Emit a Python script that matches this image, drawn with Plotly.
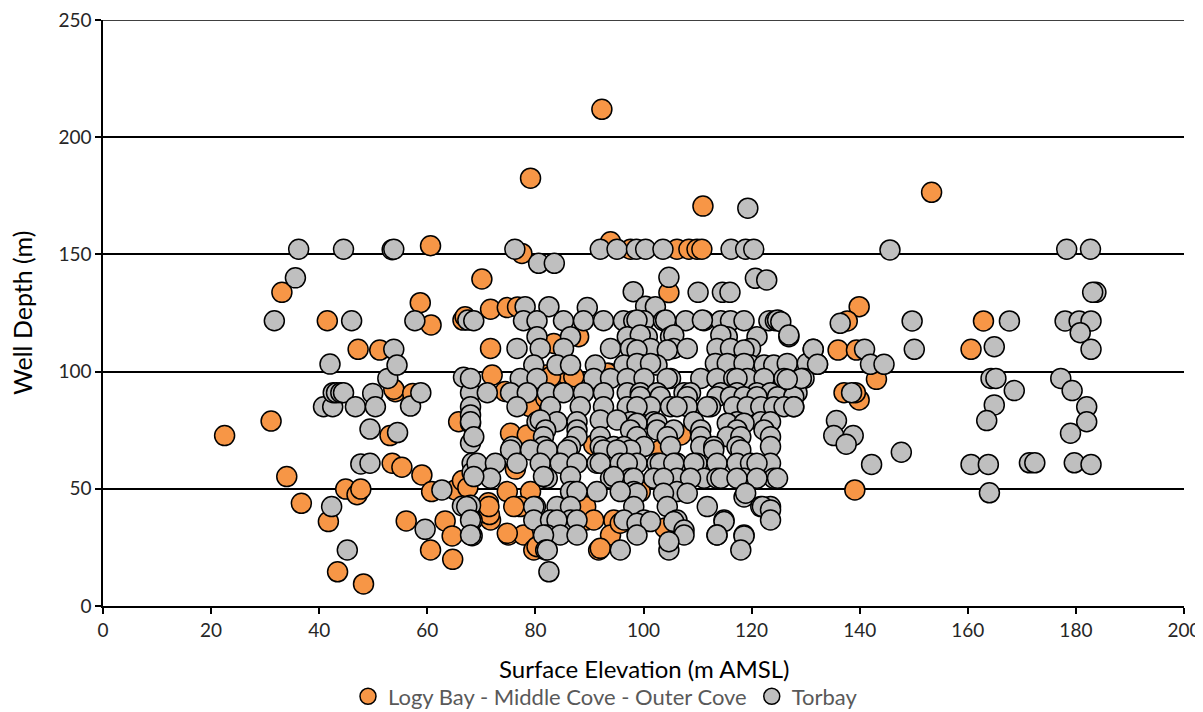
import plotly.graph_objects as go

# ---- Data: (surface elevation m AMSL, well depth m) ----
logy_points = [
    (22.5, 72.7), (31.1, 78.9), (33.1, 133.8), (34.0, 55.2), (36.7, 43.8), (41.5, 121.7),
    (41.7, 36.0), (43.4, 14.6), (44.9, 49.9), (47.0, 47.5), (47.2, 109.5), (47.7, 49.9),
    (48.2, 9.4), (51.2, 109.2), (53.1, 72.7), (53.5, 60.9), (54.1, 91.4), (53.8, 92.5),
    (55.3, 59.2), (56.1, 36.3), (57.3, 90.7), (58.7, 129.4), (59.0, 55.9), (60.6, 153.7),
    (60.7, 119.9), (60.6, 23.9), (60.8, 48.8), (63.3, 36.3), (64.6, 29.9), (64.7, 19.9),
    (65.2, 49.5), (65.8, 78.6), (66.6, 122.0), (66.5, 53.5), (67.5, 50.5), (67.0, 123.4),
    (70.1, 139.5), (71.7, 126.6), (74.8, 127.3), (76.7, 127.6), (71.7, 109.9), (72.0, 98.5),
    (74.4, 91.5), (75.4, 73.7), (78.5, 73.0), (79.0, 85.0), (81.9, 98.5), (85.9, 98.5),
    (93.6, 99.3), (90.8, 68.7), (74.8, 48.8), (79.1, 48.8), (71.1, 42.4), (77.2, 42.4),
    (88.9, 42.4), (71.7, 36.7), (89.5, 36.7), (94.5, 36.7), (75.0, 30.3), (77.8, 30.3),
    (93.9, 30.3), (79.7, 23.9), (91.7, 23.9), (79.1, 182.5), (92.3, 211.9), (111.0, 170.6),
    (77.5, 150.4), (93.9, 155.4), (97.6, 152.2), (106.2, 152.2), (108.4, 152.2), (109.9, 152.2),
    (110.8, 152.2), (104.7, 133.7), (81.9, 88.7), (97.0, 61.0), (76.3, 58.4), (71.3, 44.0),
    (71.5, 39.0), (106.9, 73.0), (103.1, 66.6), (99.4, 48.8), (104.0, 33.3), (71.4, 42.4),
    (76.0, 42.4), (89.3, 42.4), (90.8, 36.7), (95.7, 35.3), (74.8, 31.0), (92.0, 24.6),
    (80.3, 25.3), (68.0, 78.0), (83.4, 112.0), (88.0, 114.9), (82.8, 97.8), (87.1, 97.8),
    (93.3, 99.3), (153.3, 176.5), (139.9, 127.7), (137.7, 121.6), (162.9, 121.6),
    (136.0, 109.2), (139.4, 109.2), (160.6, 109.5), (143.1, 96.7), (137.1, 91.0),
    (139.9, 87.9), (139.2, 91.0), (139.1, 49.5),
]

torbay_points = [
    # left group
    (31.7, 121.7), (35.6, 140.0), (36.2, 152.2), (40.8, 85.0), (42.0, 103.2), (42.3, 42.4),
    (42.5, 85.0), (42.6, 91.0), (43.2, 91.0), (44.0, 91.0), (44.5, 91.0), (44.5, 152.2),
    (45.2, 23.9), (46.0, 121.7), (46.7, 85.0), (47.7, 60.6), (49.4, 75.5), (49.4, 60.9),
    (49.9, 90.7), (50.4, 85.0), (52.7, 97.1), (53.5, 152.0), (53.8, 152.2), (53.8, 109.5),
    (54.4, 102.8), (54.5, 74.0), (56.9, 85.3), (57.7, 121.7), (58.8, 91.0), (59.6, 32.7),
    (62.7, 49.5), (66.5, 42.7), (66.7, 97.6), (67.5, 122.0), (68.0, 91.0), (68.0, 85.0),
    (68.0, 81.5), (68.0, 69.5), (68.3, 61.0), (68.3, 57.0), (68.0, 43.0), (68.3, 36.5),
    (68.3, 30.0),
    # central cloud, top
    (76.2, 152.2), (92.0, 152.2), (95.1, 152.2), (98.7, 152.2), (100.4, 152.2), (103.6, 152.2),
    (116.2, 152.2), (118.9, 152.2), (120.4, 152.2), (80.6, 146.2), (83.5, 146.2),
    (104.7, 140.2), (98.1, 134.1), (110.1, 133.8), (114.6, 133.8), (116.0, 133.8),
    (120.7, 139.8), (122.8, 139.1), (119.3, 169.7),
    (78.1, 127.7), (82.5, 127.7), (89.6, 127.3), (100.4, 127.9), (102.2, 127.7),
    # ~122
    (68.6, 121.7), (77.8, 121.7), (80.3, 121.7), (85.2, 121.7), (88.9, 121.7), (92.6, 121.7),
    (96.3, 121.7), (98.2, 121.7), (100.1, 121.7), (103.7, 121.7), (107.8, 121.7), (111.2, 121.7),
    (114.3, 121.7), (116.1, 121.7), (118.6, 121.7), (123.2, 121.7), (124.4, 121.7),
    (98.8, 122.0), (104.1, 122.0), (110.9, 122.0), (124.8, 122.0),
    # ~115
    (80.3, 114.9), (86.5, 114.9), (97.0, 114.9), (100.7, 114.9), (105.0, 114.9), (115.5, 114.9),
    (121.0, 114.9), (126.9, 114.9), (99.4, 115.6), (105.6, 115.6), (114.3, 115.6),
    # ~110
    (76.6, 109.9), (80.9, 109.9), (85.2, 109.9), (93.9, 109.9), (97.6, 109.9), (101.3, 109.9),
    (105.6, 109.9), (108.1, 109.9), (113.6, 109.9), (116.1, 109.9), (119.8, 109.9), (131.4, 109.5),
    (98.8, 109.2), (104.4, 109.2), (118.6, 109.2),
    # ~103
    (79.7, 102.8), (84.0, 102.8), (86.5, 102.8), (91.1, 102.8), (96.4, 102.8), (100.1, 102.8),
    (102.5, 102.8), (113.6, 102.8), (116.7, 102.8), (119.8, 102.8), (122.3, 102.8), (124.1, 102.8),
    (132.2, 103.1), (98.8, 103.5), (101.3, 103.5), (113.3, 103.5), (115.5, 103.5), (118.6, 103.5),
    (126.6, 103.5), (130.3, 103.5),
    # ~97
    (68.0, 97.1), (77.2, 97.1), (80.3, 97.1), (90.8, 97.1), (93.9, 97.1), (97.0, 97.1),
    (105.0, 97.1), (110.6, 97.1), (113.6, 97.1), (116.7, 97.1), (119.2, 97.1), (122.3, 97.1),
    (126.0, 97.1), (129.4, 97.1), (100.1, 97.1), (104.4, 97.1), (117.3, 97.1), (129.7, 97.1),
    # ~91
    (71.1, 91.0), (75.4, 91.0), (78.5, 91.0), (82.2, 91.0), (85.2, 91.0), (88.9, 91.0),
    (92.6, 91.0), (97.0, 91.0), (99.4, 91.0), (102.5, 91.0), (107.5, 91.0), (108.7, 91.0),
    (114.3, 91.0), (117.3, 91.0), (121.0, 91.0), (123.5, 91.0), (128.4, 91.0),
    (99.4, 89.3), (103.1, 89.3), (108.1, 89.3), (113.6, 89.3), (116.1, 89.3), (118.6, 89.3),
    (121.0, 89.3), (124.8, 89.3), (127.8, 89.3),
    # ~85
    (76.6, 85.0), (82.8, 85.0), (88.3, 85.0), (92.6, 85.0), (97.0, 85.0), (101.3, 85.0),
    (105.0, 85.0), (108.1, 85.0), (112.4, 85.0), (116.7, 85.0), (119.2, 85.0), (121.7, 85.0),
    (124.1, 85.0), (127.8, 85.0), (98.8, 85.0), (106.2, 85.0), (111.8, 85.0), (126.0, 85.0),
    # ~79
    (68.0, 78.6), (80.3, 78.6), (84.0, 78.6), (87.7, 78.6), (97.6, 78.6), (101.9, 78.6),
    (109.3, 78.6), (117.3, 78.6), (121.7, 78.6), (123.5, 78.6), (98.8, 78.0), (102.5, 78.0),
    (115.5, 78.0), (118.6, 78.0), (80.9, 79.4), (92.0, 79.4), (95.1, 79.4),
    # ~73
    (81.9, 75.1), (87.7, 75.1), (97.6, 75.1), (102.5, 75.1), (105.6, 75.1), (110.6, 75.1),
    (117.3, 75.1), (122.3, 75.1), (98.8, 72.2), (104.4, 72.2), (110.6, 72.2), (115.5, 72.2),
    (118.0, 72.2), (123.5, 72.2), (68.6, 72.2), (81.5, 72.2), (87.7, 72.2), (92.0, 72.2),
    # ~67
    (75.7, 68.0), (81.5, 68.0), (86.5, 68.0), (92.0, 68.0), (94.5, 68.0), (96.4, 68.0),
    (100.1, 68.0), (105.0, 68.0), (110.6, 68.0), (113.0, 68.0), (117.3, 68.0), (123.5, 68.0),
    (97.6, 66.6), (113.0, 66.6), (118.0, 66.6), (75.4, 66.6), (79.1, 66.6), (82.2, 66.6),
    (85.9, 66.6), (92.6, 66.6), (95.1, 66.6),
    # ~61
    (69.2, 60.9), (72.6, 60.9), (76.6, 60.9), (80.9, 60.9), (84.6, 60.9), (87.7, 60.9),
    (91.4, 60.9), (95.7, 60.9), (98.8, 60.9), (102.5, 60.9), (106.2, 60.9), (109.9, 60.9),
    (113.6, 60.9), (117.3, 60.9), (119.8, 60.9), (123.5, 60.9), (103.1, 60.9), (105.6, 60.9),
    (109.3, 60.9), (121.0, 60.9), (92.0, 60.9), (97.0, 60.9),
    # ~55
    (71.7, 54.5), (82.2, 54.5), (93.9, 54.5), (97.6, 54.5), (101.9, 54.5), (106.2, 54.5),
    (111.2, 54.5), (113.6, 54.5), (118.6, 54.5), (124.1, 54.5), (98.2, 54.5), (103.7, 54.5),
    (108.7, 54.5), (114.3, 54.5), (117.3, 54.5), (121.0, 54.5), (124.8, 54.5), (68.6, 55.2),
    (81.5, 55.2), (86.5, 55.2), (94.5, 55.2),
    # ~48
    (87.1, 48.8), (91.4, 48.8), (98.2, 48.8), (106.2, 48.8), (118.6, 46.5), (98.8, 48.1),
    (103.7, 48.1), (108.1, 48.1), (118.9, 48.1), (86.5, 48.8), (87.7, 48.8), (95.7, 48.8),
    # ~42
    (80.0, 42.4), (84.0, 42.4), (98.2, 42.4), (104.4, 42.4), (111.8, 42.4), (121.7, 42.4),
    (123.5, 42.4), (122.0, 42.4), (123.5, 41.0), (67.3, 42.4), (79.7, 42.4), (86.5, 42.4),
    # ~37
    (79.7, 36.7), (82.8, 36.7), (86.5, 36.7), (96.4, 36.7), (100.1, 36.7), (106.2, 36.7),
    (114.9, 36.7), (123.5, 36.7), (114.9, 36.0), (98.8, 35.3), (101.3, 36.0), (105.6, 36.0),
    (107.5, 32.4), (68.0, 36.7), (84.0, 36.7), (87.7, 36.7),
    # ~30
    (82.2, 30.3), (84.6, 30.3), (87.7, 30.3), (98.8, 30.3), (107.5, 30.3), (113.6, 30.3),
    (118.6, 30.3), (113.6, 30.3), (118.6, 29.9), (68.0, 30.3), (81.5, 30.3),
    # ~24 and below
    (81.9, 23.9), (95.7, 23.9), (104.7, 23.9), (118.0, 23.9), (104.7, 27.4), (82.2, 23.9),
    (82.5, 14.6),
    # right group
    (145.6, 151.9), (178.3, 152.2), (182.7, 152.2), (183.7, 133.8), (183.1, 133.8),
    (136.4, 120.6), (149.7, 121.6), (167.7, 121.6), (178.0, 121.6), (180.6, 121.6),
    (182.8, 121.6), (180.8, 116.6), (125.4, 121.3), (126.9, 115.6), (140.9, 109.5),
    (131.4, 109.5), (132.2, 103.1), (142.0, 103.1), (144.5, 103.1), (150.1, 109.5),
    (164.9, 110.6), (182.8, 109.5), (129.2, 97.1), (126.6, 96.7), (138.5, 91.0),
    (164.3, 97.1), (165.2, 97.1), (168.6, 91.9), (177.2, 97.1), (179.3, 91.9), (182.0, 85.0),
    (182.0, 78.6), (179.0, 73.7), (164.9, 85.8), (163.5, 79.1), (127.8, 85.0), (135.7, 79.1),
    (135.2, 72.7), (138.8, 72.7), (137.5, 69.0), (147.7, 65.6), (142.2, 60.4), (160.6, 60.4),
    (163.8, 60.4), (171.4, 61.1), (172.4, 61.1), (179.7, 61.1), (182.8, 60.4), (164.0, 48.3),
]

logy_elev = [p[0] for p in logy_points]
logy_depth = [p[1] for p in logy_points]
torbay_elev = [p[0] for p in torbay_points]
torbay_depth = [p[1] for p in torbay_points]

x_ticks = [0, 20, 40, 60, 80, 100, 120, 140, 160, 180, 200]
y_ticks = [0, 50, 100, 150, 200, 250]
x_title = "Surface Elevation (m AMSL)"
y_title = "Well Depth (m)"

FONT = "Lato"
TICK_COLOR = "#262626"

fig = go.Figure()
fig.add_trace(go.Scatter(
    x=logy_elev, y=logy_depth, mode="markers",
    name="Logy Bay - Middle Cove - Outer Cove",
    marker=dict(size=20, color="#F79646", line=dict(color="black", width=1.5)),
))
fig.add_trace(go.Scatter(
    x=torbay_elev, y=torbay_depth, mode="markers",
    name="Torbay",
    marker=dict(size=20, color="#BFBFBF", line=dict(color="black", width=1.5)),
))

# top horizontal gridline (at the top of the y range)
fig.add_hline(y=y_ticks[-1], line=dict(color="black", width=1.5), layer="below")

# page body has an 8px margin, so the figure is sized/offset to compensate
fig.update_layout(
    width=1195, height=704,
    margin=dict(l=95, r=19, t=12, b=106, autoexpand=False),
    paper_bgcolor="white", plot_bgcolor="white",
    font=dict(family=FONT, size=19, color="black"),
    showlegend=True,
    legend=dict(
        orientation="h", xref="container", yref="container",
        x=0.5, xanchor="center", y=0.022, yanchor="middle",
        font=dict(family=FONT, size=22, color="#595959"),
        itemwidth=30, bgcolor="rgba(0,0,0,0)",
    ),
    xaxis=dict(
        range=[0, 200], tickvals=x_ticks, showgrid=False, zeroline=False,
        showline=True, linecolor="black", linewidth=1.5, automargin=False,
        ticks="outside", ticklen=6, tickcolor="black", tickwidth=1.5,
        ticklabeloverflow="allow",
        tickfont=dict(family=FONT, size=19, color=TICK_COLOR),
    ),
    yaxis=dict(
        range=[0, 250], tickvals=y_ticks, showgrid=True, gridcolor="black", gridwidth=1.5,
        zeroline=False, showline=True, linecolor="black", linewidth=1.5, automargin=False,
        ticks="outside", ticklen=6, tickcolor="black", tickwidth=1.5,
        ticklabeloverflow="allow",
        tickfont=dict(family=FONT, size=19, color=TICK_COLOR),
    ),
    annotations=[
        dict(text=x_title, xref="paper", yref="paper", x=0.5, y=0, xanchor="center",
             yanchor="middle", yshift=-62, showarrow=False,
             font=dict(family=FONT, size=24, color="black")),
        dict(text=y_title, xref="paper", yref="paper", x=0, y=0.5, xanchor="center",
             yanchor="middle", xshift=-81, textangle=-90, showarrow=False,
             font=dict(family=FONT, size=25, color="black")),
    ],
)

fig.write_html("out.html")
